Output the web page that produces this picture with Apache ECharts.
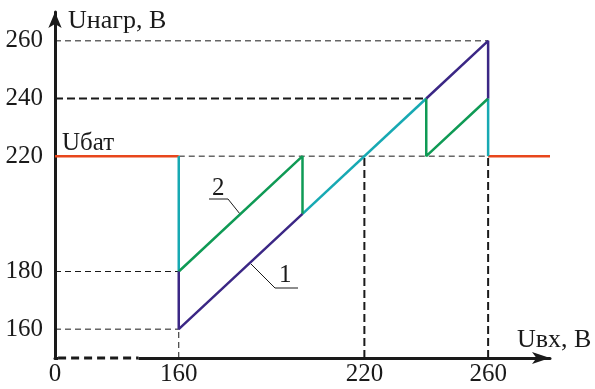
<!DOCTYPE html>
<html>
<head>
<meta charset="utf-8">
<script src="https://cdn.jsdelivr.net/npm/echarts@6/dist/echarts.min.js"></script>
<style>html,body{margin:0;padding:0;background:#fff}#c{width:595px;height:389px}</style>
</head>
<body>
<div id="c"></div>
<script>
// ---- data ----
const xTickValues = [120, 160, 220, 260];
const xTickLabels = ['0', '160', '220', '260'];
const yTickValues = [160, 180, 220, 240, 260];
const yTickLabels = ['160', '180', '220', '240', '260'];

// curve 1 (purple) segments
const purpleA = [[160, 180], [160, 160], [200, 200]];
const purpleB = [[240, 240], [260, 260], [260, 240]];
// cyan segments
const cyanA = [[160, 220], [160, 180]];
const cyanB = [[200, 200], [240, 240]];
const cyanC = [[260, 220], [260, 240]];
// curve 2 (green) segments
const greenA = [[160, 180], [200, 220], [200, 200]];
const greenB = [[240, 240], [240, 220], [260, 240]];
// battery voltage (orange)
const orangeA = [[120, 220], [160, 220]];
const orangeB = [[260, 220], [280, 220]];

// guide lines
const thinGuides = [
  [[120, 260], [260, 260]],
  [[160, 220], [260, 220]],
  [[120, 180], [160, 180]],
  [[120, 160], [160, 160]],
  [[160, 150], [160, 160]]
];
const thickGuides = [
  [[120, 240], [240, 240]],
  [[220, 150], [220, 220]],
  [[260, 150], [260, 220]]
];
// x-axis break (dashed part)
const axisBreak = [[121, 150], [147, 150]];

const COL = {
  purple: '#3b2785',
  cyan: '#17a9b3',
  green: '#0f9a55',
  orange: '#e8461c',
  ink: '#1a1a1a'
};
const FONT = 'Liberation Serif';

function line(data, color, width, type, z) {
  return {
    type: 'line', data: data, symbol: 'none', silent: true, animation: false, clip: false,
    lineStyle: { color: color, width: width, type: type || 'solid', cap: 'butt' },
    z: z || 3
  };
}

const series = [];
thinGuides.forEach(g => series.push(line(g, COL.ink, 1, [6, 4], 2)));
thickGuides.forEach(g => series.push(line(g, COL.ink, 2, [8, 4], 2)));
// white cover + dashed part of x axis
series.push(line(axisBreak, '#ffffff', 5, 'solid', 4));
series.push(line(axisBreak, COL.ink, 3, [8, 5], 5));
series.push(line(orangeA, COL.orange, 2.5));
series.push(line(orangeB, COL.orange, 2.5));
series.push(line(cyanA, COL.cyan, 2.5));
series.push(line(cyanB, COL.cyan, 2.5));
series.push(line(cyanC, COL.cyan, 2.5));
series.push(line(greenA, COL.green, 2.5));
series.push(line(greenB, COL.green, 2.5));
series.push(line(purpleA, COL.purple, 2.5));
series.push(line(purpleB, COL.purple, 2.5));

function txt(text, x, y, size) {
  return { type: 'text', x: x, y: y,
    style: { text: text, fontFamily: FONT, fontSize: size, fill: COL.ink,
      align: 'left', verticalAlign: 'middle' } };
}

const chart = echarts.init(document.getElementById('c'), null, { renderer: 'canvas' });
chart.setOption({
  backgroundColor: '#fff',
  animation: false,
  grid: { left: 55, right: 45, top: 12, bottom: 31, containLabel: false },
  xAxis: {
    type: 'value', min: 120, max: 280, interval: 20,
    axisLine: { show: true, symbol: ['none', 'arrow'], symbolSize: [9, 18],
      lineStyle: { color: COL.ink, width: 3 } },
    axisTick: { show: false },
    splitLine: { show: false },
    axisLabel: {
      margin: 4, color: COL.ink, fontFamily: FONT, fontSize: 25,
      formatter: v => { const i = xTickValues.indexOf(v); return i >= 0 ? xTickLabels[i] : ''; }
    }
  },
  yAxis: {
    type: 'value', min: 150, max: 270, interval: 10,
    axisLine: { show: true, symbol: ['none', 'arrow'], symbolSize: [10, 16],
      lineStyle: { color: COL.ink, width: 3 } },
    axisTick: { show: false },
    splitLine: { show: false },
    axisLabel: {
      margin: 12, color: COL.ink, fontFamily: FONT, fontSize: 25,
      formatter: v => { const i = yTickValues.indexOf(v); return i >= 0 ? yTickLabels[i] : ''; }
    }
  },
  series: series,
  graphic: [
    txt('Uнагр, В', 68, 21, 26),
    txt('Uбат', 62, 143, 25),
    txt('Uвх, В', 517, 340, 26),
    txt('2', 212, 188, 25),
    { type: 'line', shape: { x1: 209, y1: 199, x2: 228, y2: 199 }, style: { stroke: COL.ink, lineWidth: 1 } },
    { type: 'line', shape: { x1: 228, y1: 199, x2: 240, y2: 214 }, style: { stroke: COL.ink, lineWidth: 1 } },
    txt('1', 279, 275, 25),
    { type: 'line', shape: { x1: 275, y1: 288, x2: 298, y2: 288 }, style: { stroke: COL.ink, lineWidth: 1 } },
    { type: 'line', shape: { x1: 251, y1: 264, x2: 275, y2: 288 }, style: { stroke: COL.ink, lineWidth: 1 } }
  ]
});
</script>
</body>
</html>
